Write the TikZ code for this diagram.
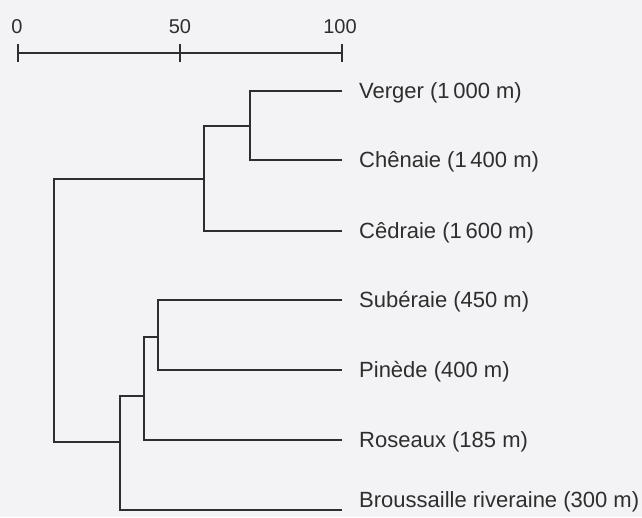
\documentclass[tikz,border=0pt]{standalone}
\usepackage{fontspec}
\setmainfont{Liberation Sans}
\definecolor{bg}{HTML}{F3F2F4}
\definecolor{ink}{HTML}{2E2E2E}
\begin{document}
\begin{tikzpicture}[x=1pt,y=-1pt,
  branch/.style={draw=ink,line width=1.4pt},
  leaflabel/.style={anchor=base west,inner sep=0pt,text=ink,font=\fontsize{22}{26}\selectfont},
  ticklabel/.style={anchor=base,inner sep=0pt,text=ink,font=\fontsize{20}{24}\selectfont}]
\fill[bg] (0,0) rectangle (642,517);
\useasboundingbox (0,0) rectangle (642,517);
% scale bar
\coordinate (s0) at (18,53);
\coordinate (s50) at (180,53);
\coordinate (s100) at (342,53);
\draw[branch] (s0) -- (s100);
\foreach \p in {s0,s50,s100}{\draw[branch] ([yshift=-9pt]\p) -- ([yshift=9pt]\p);}
\node[ticklabel] (t0) at (17,33) {0};
\node[ticklabel] (t50) at (180,33) {50};
\node[ticklabel] (t100) at (340,33) {100};
% leaves
\coordinate (l1) at (342,91);
\coordinate (l2) at (342,160);
\coordinate (l3) at (342,231);
\coordinate (l4) at (342,300);
\coordinate (l5) at (342,370);
\coordinate (l6) at (342,440);
\coordinate (l7) at (342,510);
\node[leaflabel] (v) at (359,98) {Verger (1\,000 m)};
\node[leaflabel] (c) at (359,167) {Chênaie (1\,400 m)};
\node[leaflabel] (cd) at (359,238) {Cêdraie (1\,600 m)};
\node[leaflabel] (s) at (359,307) {Subéraie (450 m)};
\node[leaflabel] (p) at (359,377) {Pinède (400 m)};
\node[leaflabel] (r) at (359,447) {Roseaux (185 m)};
\node[leaflabel] (b) at (359,517-10) {Broussaille riveraine (300 m)};
% internal nodes
\coordinate (n1) at (250,126);
\coordinate (n2) at (204,179);
\coordinate (n3) at (158,337);
\coordinate (n4) at (144,396);
\coordinate (n5) at (120,442);
\coordinate (root) at (54,310);
% branches
\draw[branch] (l1) -| (n1);
\draw[branch] (l2) -| (n1);
\draw[branch] (n1) -| (n2);
\draw[branch] (l3) -| (n2);
\draw[branch] (l4) -| (n3);
\draw[branch] (l5) -| (n3);
\draw[branch] (n3) -| (n4);
\draw[branch] (l6) -| (n4);
\draw[branch] (n4) -| (n5);
\draw[branch] (l7) -| (n5);
\draw[branch] (n2) -| (root);
\draw[branch] (n5) -| (root);
\end{tikzpicture}
\end{document}
